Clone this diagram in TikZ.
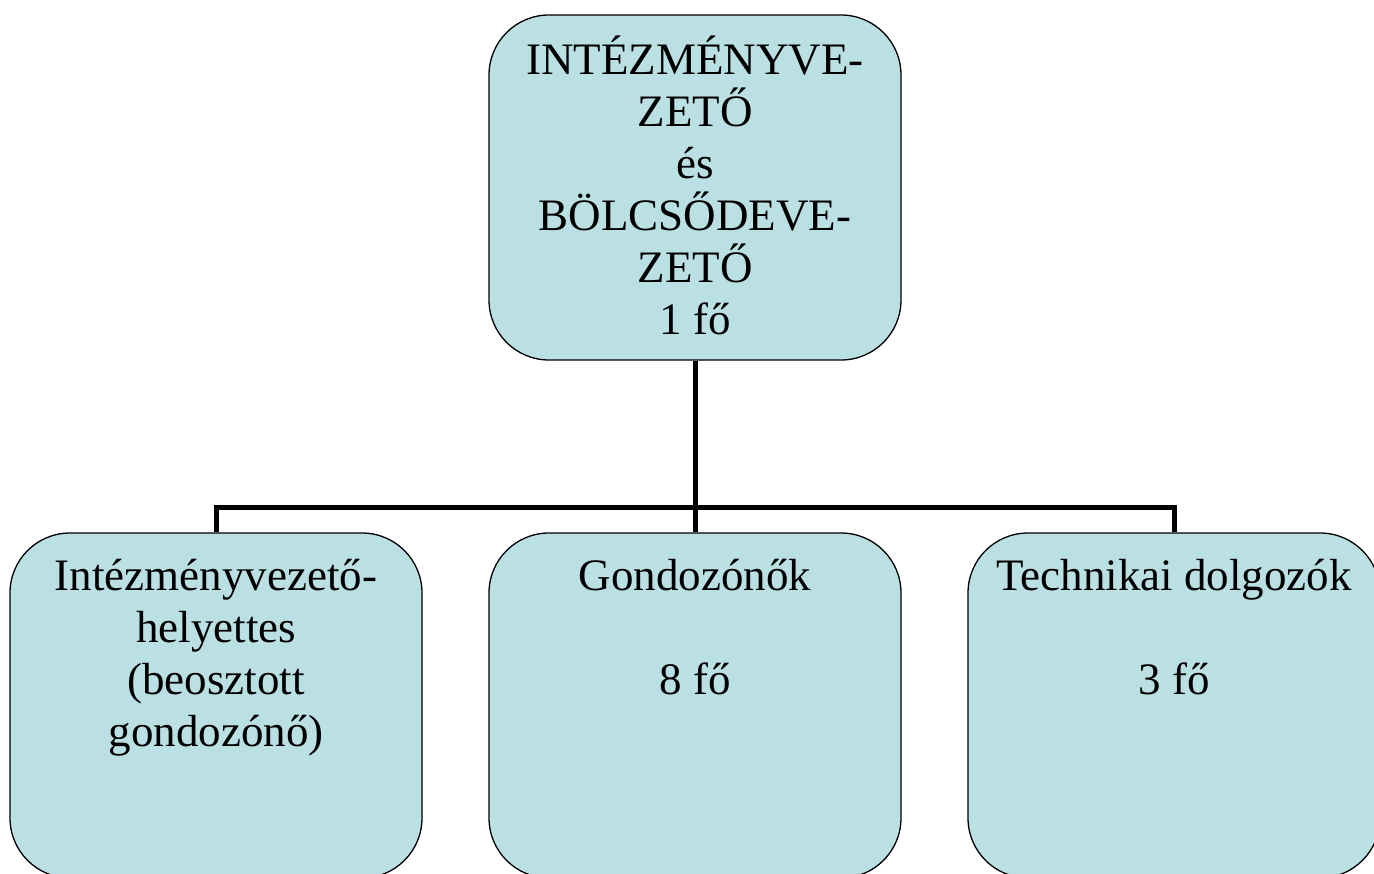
\documentclass[tikz,border=0pt]{standalone}
\usepackage{fontspec}
\setmainfont{Liberation Serif}
\definecolor{boxfill}{RGB}{187,224,227}
\begin{document}
\begin{tikzpicture}[x=1pt,y=-1pt,
  box/.style={draw=black, line width=1.3pt, fill=boxfill, rounded corners=60pt,
    minimum width=412pt, minimum height=345pt, inner sep=0pt},
  lbl/.style={font=\fontsize{45}{52}\selectfont, align=center, anchor=north, inner sep=0pt},
  conn/.style={line width=5pt, line join=miter}]
\useasboundingbox (0,0) rectangle (1374,874);
\node[box] (top) at (695,187.5) {};
\node[box] (l) at (216,705.5) {};
\node[box] (m) at (695,705.5) {};
\node[box] (r) at (1174,705.5) {};
\coordinate (bus) at (695,507);
\node[lbl] (toptxt) at (695,32) {\rule{0pt}{42pt}INTÉZMÉNYVE-\\ZETŐ\\és\\BÖLCSŐDEVE-\\ZETŐ\\1 fő};
\node[lbl] (ltxt) at (216,548) {\rule{0pt}{42pt}Intézményvezető-\\helyettes\\(beosztott\\gondozónő)};
\node[lbl] (mtxt) at (695,548) {\rule{0pt}{42pt}Gondozónők\\[52pt]8 fő};
\node[lbl] (rtxt) at (1174,548) {\rule{0pt}{42pt}Technikai dolgozók\\[52pt]3 fő};
\draw[conn] (top.south) -- (bus);
\draw[conn] (l.north) |- (bus) -| (r.north);
\draw[conn] (bus) -- (m.north);
\end{tikzpicture}
\end{document}
